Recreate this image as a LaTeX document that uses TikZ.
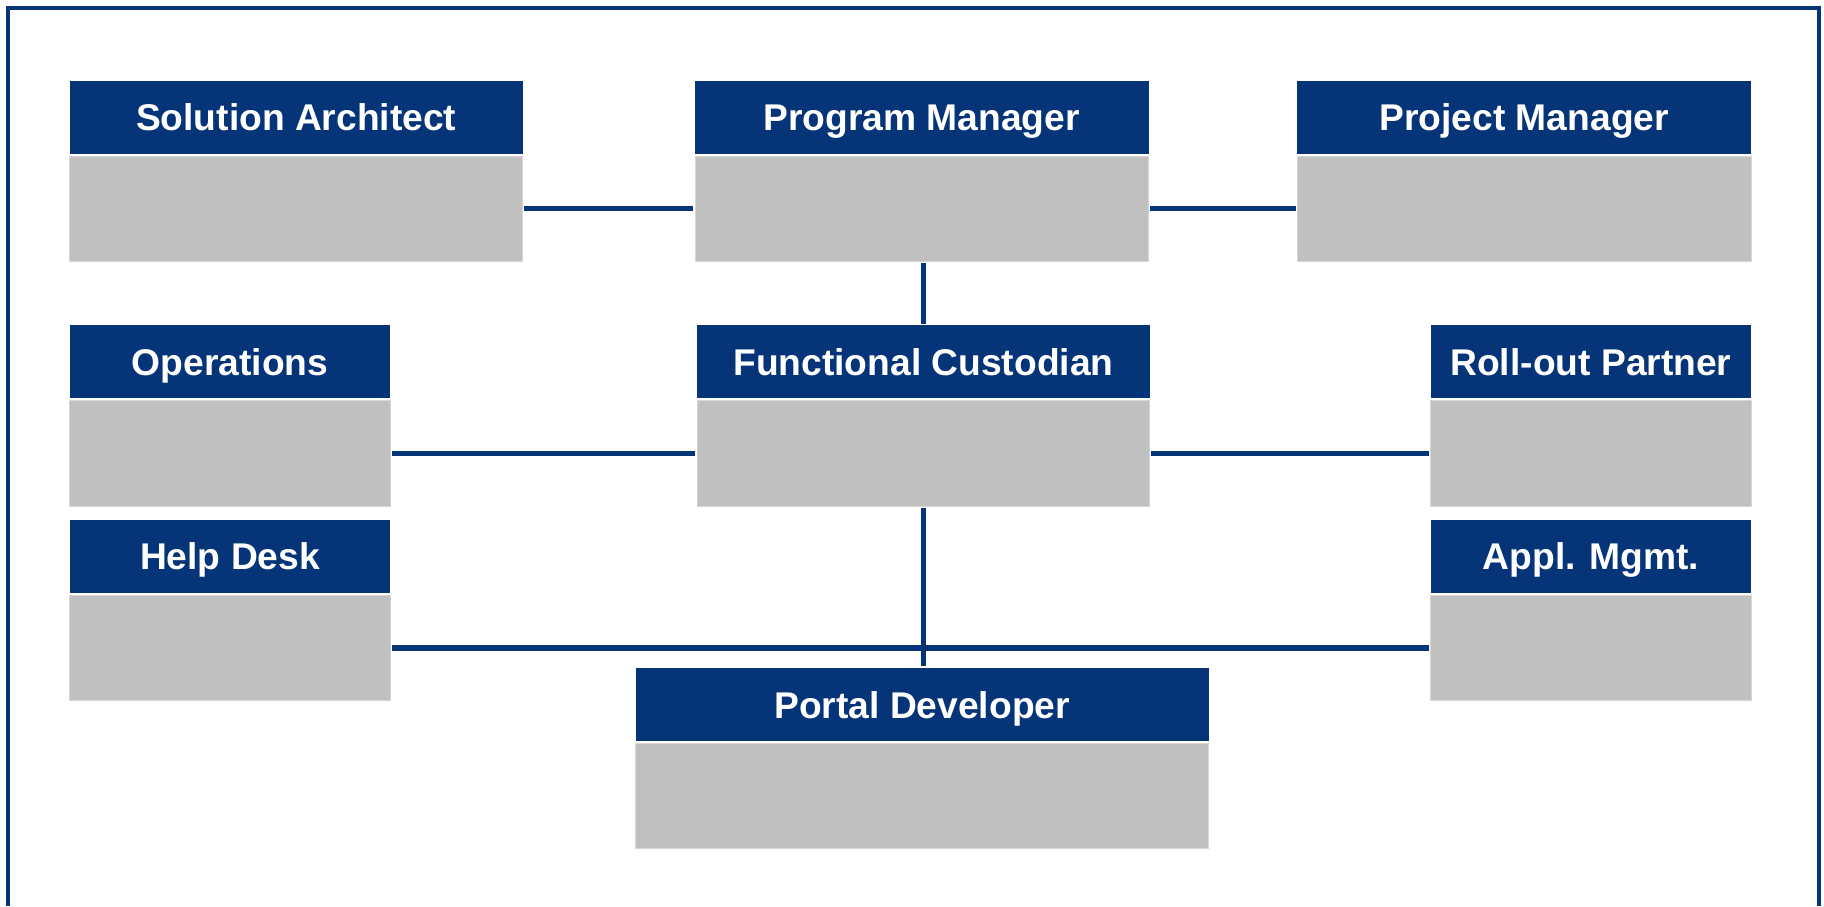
\documentclass[tikz,border=0pt]{standalone}
\usepackage{fontspec}
\setmainfont{Liberation Sans}
\definecolor{navy}{HTML}{053578}
\definecolor{cardgray}{HTML}{C0C0C0}
\definecolor{cardedge}{HTML}{D6D6D6}

% one org card: header with the role name, grey body underneath
% #1 name, #2 left x, #3 right x, #4 top y, #5 role
\newcommand\orgcard[5]{%
  \node[cardhead, minimum width={(#3-#2)*0.5pt}] (#1-h) at (#2,#4) {#5};
  \node[cardbody, minimum width={(#3-#2)*0.5pt}] (#1-b) at (#2,#4+75.3) {};
}

\begin{document}
\begin{tikzpicture}[x=0.5pt,y=-0.5pt,
  cardhead/.style={anchor=north west, inner sep=0pt, minimum height=36.5pt,
    text height=13.4pt, text depth=0pt,
    fill=navy, text=white, font=\bfseries\fontsize{18.6pt}{22pt}\selectfont},
  cardbody/.style={anchor=north west, inner sep=0pt, minimum height=52.7pt,
    fill=cardgray, draw=cardedge, line width=0.3pt},
  link/.style={draw=navy, line width=2.75pt, line cap=butt,
    shorten <=0.7pt, shorten >=0.7pt},
  frameline/.style={draw=navy, line width=2pt, line join=miter}]

\useasboundingbox (0,0) rectangle (1824,906);
\fill[white] (0,0) rectangle (1824,906);

% outer frame, open at the bottom edge
\draw[frameline] (8.3,906) |- (1818.7,8) -- (1818.7,906);

% cards
\orgcard{sa}{69.3}{522.3}{80.3}{Solution Architect}
\orgcard{pm}{694.5}{1148.2}{80.3}{Program Manager}
\orgcard{prm}{1297}{1750.7}{80.3}{Project Manager}
\orgcard{ops}{69.3}{390}{325}{Operations}
\orgcard{fc}{696.7}{1149.3}{325}{Functional Custodian}
\orgcard{rop}{1430.3}{1750.7}{325}{Roll-out Partner}
\orgcard{hd}{69.3}{390}{519.5}{Help Desk}
\orgcard{am}{1430.3}{1750.7}{519.5}{Appl. Mgmt.}
\orgcard{pd}{635.1}{1208.3}{667.7}{Portal Developer}

% connectors
\draw[link] (sa-b.east) -- (pm-b.west);
\draw[link] (pm-b.east) -- (prm-b.west);
\draw[link] (fc-h.north |- pm-b.south) -- (fc-h.north);
\draw[link] (ops-b.east) -- (fc-b.west);
\draw[link] (fc-b.east) -- (rop-b.west);
\draw[link] (hd-b.east) -- (am-b.west);
\draw[link] (fc-b.south) -- (fc-b.south |- pd-h.north);
\end{tikzpicture}
\end{document}
